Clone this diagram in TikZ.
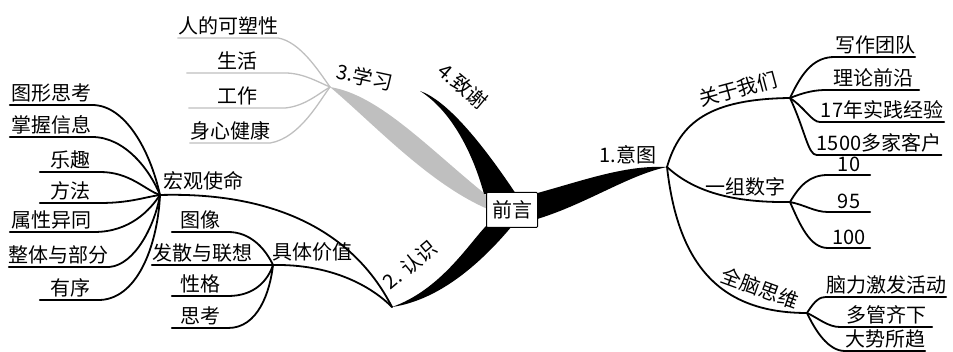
\documentclass[tikz,border=0pt]{standalone}
\usepackage{fontspec}
\setmainfont{Noto Sans CJK SC}
\usetikzlibrary{positioning, calc, backgrounds}

\begin{document}
\begin{tikzpicture}[x=1pt, y=-1pt,
    lbl/.style={font=\fontsize{20}{22}\selectfont, inner sep=1pt},
    leaf/.style={lbl, anchor=south, inner ysep=3pt, inner xsep=0pt},
    rootbox/.style={lbl, draw, line width=1pt, fill=white, rounded corners=1pt,
        minimum width=51pt, minimum height=35pt},
    twig/.style={line width=1.8pt, line cap=round},
    twiggray/.style={twig, gray!50, line width=1.3pt}]
\useasboundingbox (0,0) rectangle (953,352);

\node[rootbox] (root) at (512,210) {前言};

\coordinate (j1) at (667,167);
\coordinate (j2) at (392,307);
\coordinate (j3) at (330,87);
\coordinate (j4) at (420,91);
\coordinate (ja) at (790,98);
\coordinate (jn) at (790,202);
\coordinate (jq) at (807,313);
\coordinate (jm) at (160,195);
\coordinate (jv) at (273,265);

\begin{scope}[on background layer]
\fill ($(root.east)+(-4,-16)$) .. controls (585,180) and (625,165) .. (j1)
    .. controls (628,175) and (585,205) .. ($(root.east)+(-4,10)$) -- cycle;
\fill ($(root.south west)+(0,-2)$) .. controls (468,245) and (440,290) .. (j2)
    .. controls (440,300) and (482,262) .. ($(root.south)+(0,-2)$) -- cycle;
\fill[gray!50] (j3) .. controls (380,95) and (430,150) .. ($(root.west)+(4,-12)$)
    -- ($(root.west)+(4,0)$) .. controls (430,185) and (375,125) .. (j3) -- cycle;
\fill ($(root.north west)+(-2,2)$) .. controls (472,150) and (450,110) .. (j4)
    .. controls (446,100) and (480,140) .. ($(root.north)+(4,2)$) -- cycle;
\end{scope}

% 1
\node[lbl] (l1) at (628,155) {1.意图};
\node[lbl, rotate=15] (la) at (738,89) {关于我们};
\node[lbl] (ln) at (745,187) {一组数字};
\node[lbl, rotate=-20] (lq) at (760,288) {全脑思维};
\draw[twig] (j1) .. controls (680,122) and (710,99) .. (ja);
\draw[twig] (j1) .. controls (690,188) and (725,203) .. (jn);
\draw[twig] (j1) .. controls (678,265) and (720,313) .. (jq);

\node[leaf, minimum width=80pt] (a1) at (875,57) {写作团队};
\node[leaf, minimum width=92pt] (a2) at (873,90) {理论前沿};
\node[leaf, minimum width=124pt] (a3) at (882,122) {17年实践经验};
\node[leaf] (a4) at (879,155) {1500多家客户};
\draw[twig] (ja) .. controls (803,70) and (815,57) .. (a1.south west) -- (a1.south east);
\draw[twig] (ja) .. controls (805,92) and (815,90) .. (a2.south west) -- (a2.south east);
\draw[twig] (ja) .. controls (805,108) and (812,122) .. (a3.south west) -- (a3.south east);
\draw[twig] (ja) .. controls (805,130) and (808,155) .. (a4.south west) -- (a4.south east);

\node[leaf, minimum width=42pt] (n1) at (849,175) {10};
\node[leaf, minimum width=42pt] (n2) at (849,212) {95};
\node[leaf, minimum width=42pt] (n3) at (849,248) {100};
\draw[twig] (jn) .. controls (800,185) and (810,175) .. (n1.south west) -- (n1.south east);
\draw[twig] (jn) .. controls (805,205) and (815,212) .. (n2.south west) -- (n2.south east);
\draw[twig] (jn) .. controls (800,225) and (810,248) .. (n3.south west) -- (n3.south east);

\node[leaf] (q1) at (886,297) {脑力激发活动};
\node[leaf, minimum width=92pt] (q2) at (886,327) {多管齐下};
\node[leaf] (q3) at (885,351) {大势所趋};
\draw[twig] (jq) .. controls (815,300) and (820,297) .. (q1.south west) -- (q1.south east);
\draw[twig] (jq) .. controls (818,318) and (828,327) .. (q2.south west) -- (q2.south east);
\draw[twig] (jq) .. controls (815,330) and (828,351) .. (q3.south west) -- (q3.south east);

% 2
\node[lbl, rotate=40] (l2) at (410,265) {2. 认识};
\node[lbl] (lm) at (203,181) {宏观使命};
\node[lbl] (lv) at (312,252) {具体价值};
\draw[twig] (j2) .. controls (350,225) and (265,192) .. (jm);
\draw[twig] (j2) .. controls (370,285) and (330,264) .. (jv);

\node[leaf, minimum width=82pt] (m1) at (51,105) {图形思考};
\node[leaf, minimum width=82pt] (m2) at (51,137) {掌握信息};
\node[leaf, minimum width=60pt] (m3) at (70,172) {乐趣};
\node[leaf, minimum width=60pt] (m4) at (70,203) {方法};
\node[leaf, minimum width=84pt] (m5) at (52,232) {属性异同};
\node[leaf] (m6) at (59,267) {整体与部分};
\node[leaf, minimum width=60pt] (m7) at (70,300) {有序};
\draw[twig] (m1.south west) -- (m1.south east) .. controls (125,105) and (150,150) .. (jm);
\draw[twig] (m2.south west) -- (m2.south east) .. controls (125,137) and (150,170) .. (jm);
\draw[twig] (m3.south west) -- (m3.south east) .. controls (130,172) and (145,190) .. (jm);
\draw[twig] (m4.south west) -- (m4.south east) .. controls (130,203) and (145,197) .. (jm);
\draw[twig] (m5.south west) -- (m5.south east) .. controls (130,232) and (150,210) .. (jm);
\draw[twig] (m6.south west) -- (m6.south east) .. controls (135,265) and (155,225) .. (jm);
\draw[twig] (m7.south west) -- (m7.south east) .. controls (140,298) and (158,240) .. (jm);

\node[leaf, minimum width=56pt] (v1) at (200,232) {图像};
\node[leaf] (v2) at (202,265) {发散与联想};
\node[leaf, minimum width=56pt] (v3) at (200,296) {性格};
\node[leaf, minimum width=56pt] (v4) at (200,328) {思考};
\draw[twig] (v1.south west) -- (v1.south east) .. controls (250,232) and (265,248) .. (jv);
\draw[twig] (v2.south west) -- (v2.south east) -- (jv);
\draw[twig] (v3.south west) -- (v3.south east) .. controls (255,296) and (268,280) .. (jv);
\draw[twig] (v4.south west) -- (v4.south east) .. controls (258,328) and (270,292) .. (jv);

% 3
\node[lbl, rotate=-12] (l3) at (365,77) {3.学习};
\node[leaf] (s1) at (228,38) {人的可塑性};
\node[leaf, minimum width=100pt] (s2) at (237,73) {生活};
\node[leaf, minimum width=96pt] (s3) at (237,108) {工作};
\node[leaf, minimum width=80pt] (s4) at (230,143) {身心健康};
\draw[twiggray] (s1.south west) -- (s1.south east) .. controls (300,42) and (318,70) .. (j3);
\draw[twiggray] (s2.south west) -- (s2.south east) .. controls (305,74) and (318,82) .. (j3);
\draw[twiggray] (s3.south west) -- (s3.south east) .. controls (305,106) and (318,94) .. (j3);
\draw[twiggray] (s4.south west) -- (s4.south east) .. controls (300,138) and (320,100) .. (j3);

% 4
\node[lbl, rotate=-40] (l4) at (463,86) {4.致谢};

\end{tikzpicture}
\end{document}
